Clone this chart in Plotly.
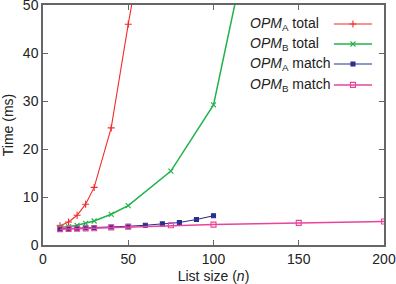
import plotly.graph_objects as go

# Data
a_total_x = [10, 15, 20, 25, 30, 40, 50, 60]
a_total_y = [4.0, 4.8, 6.2, 8.5, 12.0, 24.4, 46.0, 66.0]
b_total_x = [10, 15, 20, 25, 30, 40, 50, 75, 100, 125]
b_total_y = [3.7, 3.8, 4.1, 4.5, 5.0, 6.4, 8.2, 15.4, 29.2, 71.0]
a_match_x = [10, 15, 20, 25, 30, 40, 50, 60, 70, 80, 90, 100]
a_match_y = [3.4, 3.45, 3.5, 3.55, 3.6, 3.75, 3.9, 4.1, 4.4, 4.7, 5.3, 6.1]
b_match_x = [10, 15, 20, 25, 30, 40, 50, 75, 100, 150, 200]
b_match_y = [3.3, 3.35, 3.4, 3.45, 3.5, 3.65, 3.8, 4.1, 4.25, 4.6, 4.9]

names = ["<i>OPM</i><sub>A</sub> total", "<i>OPM</i><sub>B</sub> total",
         "<i>OPM</i><sub>A</sub> match", "<i>OPM</i><sub>B</sub> match"]
colors = ["#f42a2a", "#1fb34a", "#2b2f8f", "#e8449c"]
symbols = ["cross-thin-open", "x-thin-open", "square", "square-open"]
widths = [1.1, 1.5, 1.1, 1.5]
msizes = [5, 5, 4, 5]

series = [(a_total_x, a_total_y), (b_total_x, b_total_y),
          (a_match_x, a_match_y), (b_match_x, b_match_y)]

fig = go.Figure()
for (xs, ys), c, s, w, ms in zip(series, colors, symbols, widths, msizes):
    fig.add_trace(go.Scatter(x=xs, y=ys, mode="lines+markers",
                             line=dict(color=c, width=w),
                             marker=dict(symbol=s, size=ms, color=c,
                                         line=dict(color=c, width=1.1)),
                             showlegend=False, cliponaxis=True))

# manual legend (sample on the right of the text)
leg_x0, leg_x1, leg_xm, txt_x = 0.853, 0.965, 0.909, 0.601
leg_rows = [0.921, 0.8375, 0.754, 0.667]
for name, c, s, w, ms, ry in zip(names, colors, symbols, widths, msizes, leg_rows):
    fig.add_trace(go.Scatter(x=[leg_x0, leg_x1], y=[ry, ry], mode="lines",
                             line=dict(color=c, width=w), xaxis="x2", yaxis="y2",
                             showlegend=False, hoverinfo="skip"))
    fig.add_trace(go.Scatter(x=[leg_xm], y=[ry], mode="markers",
                             marker=dict(symbol=s, size=ms, color=c,
                                         line=dict(color=c, width=1.1)),
                             xaxis="x2", yaxis="y2", showlegend=False, hoverinfo="skip"))
    fig.add_annotation(x=txt_x, y=ry, xref="x2", yref="y2", text=name,
                       showarrow=False, xanchor="left", yanchor="middle",
                       font=dict(size=14, color="#222"))

axis_common = dict(showline=True, linecolor="#666", linewidth=1.5, mirror="ticks",
                   ticks="inside", ticklen=5, tickcolor="#666", tickwidth=1,
                   showgrid=False, zeroline=False, automargin=False,
                   ticklabeloverflow="allow",
                   tickfont=dict(size=14, color="#222"))

fig.update_layout(
    width=396, height=284,
    margin=dict(l=43, r=12, t=5, b=39),
    paper_bgcolor="white", plot_bgcolor="white",
    font=dict(family="Liberation Sans, Arial, sans-serif", color="#222"),
    xaxis=dict(range=[0, 200], tickvals=[0, 50, 100, 150, 200],
               title=dict(text="List size (<i>n</i>)", font=dict(size=14)),
               **axis_common),
    yaxis=dict(range=[0, 50], tickvals=[0, 10, 20, 30, 40, 50],
               title=dict(text="Time (ms)", font=dict(size=14)),
               **axis_common),
    xaxis2=dict(range=[0, 1], overlaying="x", visible=False),
    yaxis2=dict(range=[0, 1], overlaying="y", visible=False),
)

fig.write_html("out.html", config={"displayModeBar": False},
               post_script="document.body.style.margin='0';document.body.style.overflow='hidden';")
